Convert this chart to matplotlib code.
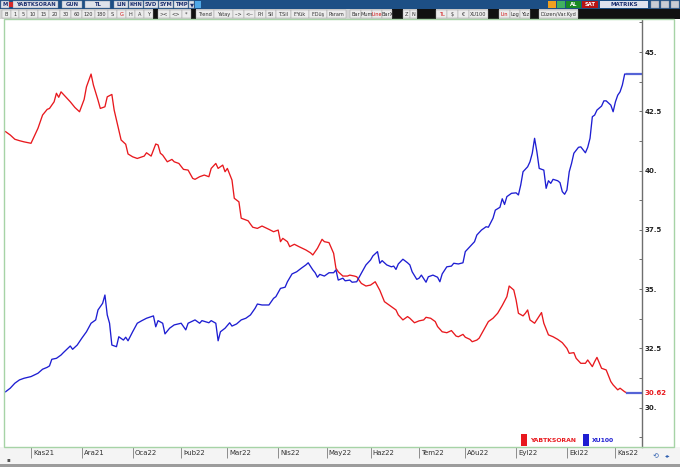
import matplotlib.pyplot as plt
import matplotlib.transforms as mtransforms
from matplotlib.patches import Rectangle

# both series share the right hand scale, x = trading session counted from the first bar
ybt_t = [0, 2, 4, 6, 8, 11, 12, 14, 16, 18, 19, 21, 22, 23, 24, 27, 28, 30, 32, 34,
         35, 37, 38, 40, 41, 43, 44, 46, 47, 48, 50, 52, 53, 55, 57, 60, 61, 63, 65, 66,
         67, 68, 70, 72, 73, 75, 77, 79, 81, 82, 84, 86, 88, 89, 91, 92, 94, 95, 96, 98,
         99, 101, 102, 105, 106, 107, 109, 111, 114, 116, 118, 119, 120, 122, 123, 125, 127, 130, 132, 133,
         135, 137, 138, 140, 142, 143, 144, 146, 148, 149, 151, 152, 154, 156, 158, 160, 162, 164, 166, 169,
         170, 172, 174, 175, 177, 179, 181, 182, 184, 186, 187, 189, 191, 193, 195, 196, 198, 199, 201, 202,
         204, 205, 207, 209, 211, 213, 215, 217, 218, 220, 221, 222, 224, 225, 226, 227, 229, 232, 233, 235,
         237, 239, 241, 243, 244, 246, 247, 249, 251, 252, 254, 255, 256, 258, 260, 262, 263, 265, 266, 268,
         269]
ybt_v = [41.64, 41.50, 41.32, 41.26, 41.21, 41.15, 41.36, 41.78, 42.34, 42.58, 42.62, 42.90, 43.26, 43.09, 43.32, 43.00, 42.90, 42.66, 42.48, 43.00,
         43.53, 44.07, 43.61, 42.97, 42.62, 42.69, 43.11, 43.21, 42.55, 42.13, 41.29, 41.11, 40.70, 40.58, 40.51, 40.61, 40.75, 40.61, 41.12, 41.08,
         40.73, 40.65, 40.37, 40.47, 40.37, 40.30, 40.05, 40.02, 39.67, 39.63, 39.74, 39.81, 39.74, 40.09, 40.30, 40.09, 40.23, 39.95, 40.09, 39.60,
         38.83, 38.68, 37.99, 37.88, 37.74, 37.61, 37.56, 37.66, 37.52, 37.42, 37.49, 37.00, 37.14, 37.00, 36.79, 36.89, 36.79, 36.65, 36.53, 36.44,
         36.72, 37.10, 37.00, 36.96, 36.51, 35.88, 35.73, 35.55, 35.55, 35.59, 35.55, 35.52, 35.24, 35.13, 35.17, 35.31, 34.95, 34.47, 34.33, 34.12,
         33.91, 33.70, 33.84, 33.77, 33.58, 33.66, 33.70, 33.81, 33.77, 33.63, 33.42, 33.20, 33.16, 33.25, 33.02, 32.99, 33.09, 32.97, 32.88, 32.78,
         32.85, 32.93, 33.28, 33.63, 33.77, 33.98, 34.31, 34.68, 35.13, 34.96, 34.54, 33.98, 33.87, 33.98, 34.12, 33.70, 33.56, 34.01, 33.56, 33.07,
         32.99, 32.88, 32.74, 32.50, 32.29, 32.32, 32.08, 31.87, 31.87, 32.01, 31.73, 31.94, 32.12, 31.66, 31.59, 31.10, 30.96, 30.75, 30.82, 30.67,
         30.62]

xu_t = [0, 2, 4, 6, 8, 11, 14, 16, 18, 19, 20, 22, 24, 25, 28, 29, 31, 33, 35, 37,
        39, 40, 42, 43, 44, 45, 46, 48, 49, 51, 52, 53, 55, 57, 59, 61, 64, 65, 66, 68,
        69, 71, 73, 76, 78, 79, 82, 84, 85, 88, 89, 91, 92, 93, 95, 97, 98, 100, 102, 104,
        106, 108, 109, 111, 114, 116, 117, 119, 121, 122, 124, 126, 128, 130, 131, 133, 134, 135, 136, 138,
        140, 142, 143, 144, 146, 147, 149, 150, 152, 154, 156, 158, 159, 161, 162, 163, 165, 167, 168, 169,
        170, 172, 174, 175, 176, 178, 179, 180, 182, 183, 185, 187, 188, 189, 191, 193, 194, 196, 198, 199,
        201, 203, 204, 206, 208, 209, 211, 212, 214, 215, 216, 217, 219, 221, 222, 223, 224, 226, 227, 228,
        229, 230, 231, 233, 234, 235, 236, 237, 239, 240, 241, 242, 243, 244, 245, 246, 248, 249, 251, 252,
        253, 254, 255, 256, 258, 259, 260, 262, 263, 264, 265, 266, 267, 268, 269]
xu_v = [30.67, 30.82, 31.03, 31.17, 31.24, 31.31, 31.45, 31.62, 31.70, 31.76, 32.04, 32.08, 32.22, 32.32, 32.60, 32.46, 32.64, 32.93, 33.20, 33.56,
        33.70, 34.12, 34.40, 34.75, 33.91, 33.56, 32.64, 32.57, 32.99, 32.85, 32.97, 32.82, 33.20, 33.56, 33.67, 33.77, 33.87, 33.41, 33.67, 33.56,
        33.11, 33.35, 33.49, 33.56, 33.28, 33.56, 33.70, 33.56, 33.67, 33.58, 33.67, 33.56, 32.82, 33.20, 33.35, 33.58, 33.44, 33.53, 33.70, 33.77,
        33.91, 34.19, 34.37, 34.33, 34.33, 34.61, 34.68, 35.03, 35.08, 35.31, 35.64, 35.73, 35.88, 36.02, 36.11, 35.81, 35.69, 35.50, 35.62, 35.55,
        35.69, 35.69, 35.81, 35.38, 35.46, 35.35, 35.38, 35.29, 35.31, 35.67, 36.02, 36.23, 36.40, 36.58, 36.09, 36.20, 36.02, 35.94, 35.97, 35.83,
        36.06, 36.26, 36.11, 36.02, 35.73, 35.41, 35.46, 35.59, 35.29, 35.52, 35.59, 35.50, 35.31, 35.64, 35.94, 35.97, 36.09, 36.06, 36.11, 36.58,
        36.79, 37.00, 37.28, 37.49, 37.63, 37.61, 37.99, 38.33, 38.45, 38.81, 38.57, 38.90, 39.04, 39.06, 38.97, 39.39, 39.95, 40.16, 40.37, 40.73,
        41.36, 40.79, 40.09, 40.02, 39.25, 39.57, 39.46, 39.63, 39.57, 39.49, 39.11, 39.00, 39.18, 39.95, 40.30, 40.73, 40.98, 41.00, 40.75, 40.98,
        41.36, 42.27, 42.34, 42.55, 42.72, 42.94, 42.94, 42.76, 42.48, 42.90, 43.18, 43.32, 43.61, 44.07, 44.07]

month_pos = [11, 33, 55, 76, 96, 118, 139, 158, 179, 199, 221, 243, 264]
month_lab = ['Kas21', 'Ara21', 'Oca22', 'Þub22', 'Mar22', 'Nis22', 'May22',
             'Haz22', 'Tem22', 'Aðu22', 'Eyl22', 'Eki22', 'Kas22']

y_major = [30, 32.5, 35, 37.5, 40, 42.5, 45]
y_major_lab = ['30.', '32.5', '35.', '37.5', '40.', '42.5', '45.']
y_minor = [28.75, 31.25, 33.75, 36.25, 38.75, 41.25, 43.75, 46.25]

RED = '#e8191e'
BLUE = '#1e1ed2'
LAST = '#5563d6'

W, H = 680, 467

fig = plt.figure(figsize=(6.8, 4.67), dpi=100)
fig.patch.set_facecolor('white')


def box(x0, x1, y0, y1, fc, ec='none', lw=0.5, z=-1):
    fig.add_artist(Rectangle((x0 / W, 1 - y1 / H), (x1 - x0) / W, (y1 - y0) / H,
                             transform=fig.transFigure, fc=fc, ec=ec, lw=lw, zorder=z))


def label(x, y, s, size=4.2, ha='center', **kw):
    fig.text(x / W, 1 - y / H, s, ha=ha, va='center', fontsize=size, **kw)


# ---- chart ----
ax = fig.add_axes([5 / W, 1 - 447 / H, 637 / W, 427 / H])
x_end = 275.5
ax.plot(ybt_t, ybt_v, color=RED, lw=0.95)
ax.plot(xu_t, xu_v, color=BLUE, lw=0.95)
ax.plot([ybt_t[-1], x_end], [ybt_v[-1], ybt_v[-1]], color=LAST, lw=1.6)
ax.plot([xu_t[-1], x_end], [xu_v[-1], xu_v[-1]], color=LAST, lw=1.6)
ax.set_xlim(-0.26, x_end)
ax.set_ylim(28.34, 46.35)

for s in ['left', 'top', 'bottom']:
    ax.spines[s].set_visible(False)
ax.spines['right'].set_color('#6e6e6e')
ax.spines['right'].set_linewidth(1.0)

ax.yaxis.tick_right()
ax.set_yticks(y_major)
ax.set_yticklabels(y_major_lab)
ax.set_yticks(y_minor, minor=True)
ax.tick_params(axis='y', which='both', direction='in', length=2.5, width=0.7,
               color='#6e6e6e', pad=2, labelsize=5, labelcolor='#222222')
for t in ax.get_yticklabels():
    t.set_fontweight('bold')

ax.set_xticks(month_pos)
ax.set_xticklabels(month_lab, ha='left')
ax.tick_params(axis='x', direction='out', length=8, width=0.7, color='#8c8c8c',
               pad=-6, labelsize=5, labelcolor='#333333')
off = mtransforms.ScaledTranslation(2 / 100, 0, fig.dpi_scale_trans)
for t in ax.get_xticklabels():
    t.set_transform(t.get_transform() + off)

# last value tag
ax.text(1.004, ybt_v[-1], '%.2f' % ybt_v[-1], transform=ax.get_yaxis_transform(),
        color=RED, fontsize=5, fontweight='bold', va='center', ha='left')

# legend at bottom right
box(521, 527, 434, 446, RED, z=3)
label(530, 440, 'YABTKSORAN', size=4.4, ha='left', color=RED, fontweight='bold')
box(583, 589, 434, 446, BLUE, z=3)
label(592, 440, 'XU100', size=4.4, ha='left', color=BLUE, fontweight='bold')

# ---- frame and bottom strip ----
box(0, 680, 447, 467, '#f4f4f4')
box(0, 680, 464, 467, '#9c9c9c')
fig.add_artist(Rectangle((4 / W, 1 - 447 / H), 670 / W, 428 / H, transform=fig.transFigure,
                         fill=False, ec='#a6d3a6', lw=1.0, zorder=2))
label(8, 460, '▪', size=4, color='#555555')
label(656, 456, '⟲', size=5, color='#3060b0')
label(668, 456, '◂▸', size=4, color='#3060b0')

# ---- toolbar row 1 ----
box(0, 680, 0, 9, '#1d4f85')
row1 = [('M', 1, 9), ('YABTKSORAN', 13, 58), ('GUN', 62, 82), ('TL', 85, 110), ('LIN', 114, 128),
        ('KHN', 129, 143), ('SVD', 144, 158), ('SYM', 159, 173), ('TMP', 174, 188), ('▼', 189, 194)]
for s, a, b in row1:
    box(a, b, 1, 8, '#dfe3ea', ec='#7d8aa0', lw=0.3, z=0)
    label((a + b) / 2, 4.6, s, size=3.8, color='#1c2f6e', fontweight='bold')
box(9, 13, 2, 7, '#d42a2a', z=0)
box(195, 201, 1, 8, '#4fa8e8', z=0)
box(548, 556, 1, 8, '#f0a020', z=0)
box(557, 565, 1, 8, '#40b060', z=0)
box(566, 581, 1, 8, '#188a22', z=0)
label(573.5, 4.6, 'AL', size=3.8, color='white', fontweight='bold')
box(582, 598, 1, 8, '#b81414', z=0)
label(590, 4.6, 'SAT', size=3.8, color='white', fontweight='bold')
box(600, 648, 1, 8, '#dfe3ee', z=0)
label(624, 4.6, 'MATRIKS', size=4, color='#1c2f6e', fontweight='bold')
for a in [651, 661, 671]:
    box(a, a + 8, 1, 8, '#c8ccd4', ec='#8890a0', lw=0.3, z=0)

# ---- toolbar row 2 ----
box(0, 680, 9, 19, '#d4d4d4')
row2 = [('B', 2, 11), ('1', 11, 19), ('5', 19, 27), ('10', 27, 38), ('15', 38, 49), ('20', 49, 60),
        ('30', 60, 71), ('60', 71, 82), ('120', 82, 95), ('180', 95, 108), ('S', 108, 117),
        ('G', 117, 126), ('H', 126, 135), ('A', 135, 144), ('Y', 144, 153), ('><', 158, 170),
        ('<>', 170, 182), ('*', 182, 191), ('Trend', 196, 214), ('Yatay', 214, 233), ('-->', 233, 244),
        ('<--', 244, 255), ('Prl', 255, 266), ('Sil', 266, 276), ('T.Sil', 276, 291), ('F.Yük', 291, 309),
        ('F.Düş', 309, 327), ('Param', 327, 346), ('Bar', 350, 361), ('Mum', 361, 372), ('Line', 372, 382),
        ('BarX', 382, 392), ('Z', 403, 410), ('N', 410, 417), ('TL', 436, 447), ('$', 447, 458),
        ('€', 458, 469), ('XU100', 469, 488), ('Lin', 499, 510), ('Log', 510, 520), ('Yüz', 520, 530),
        ('Düzen/Var.Kyd', 539, 578)]
red_btn = ['G', 'Line', 'TL', 'Lin']
for a, b in [(153, 158), (191, 196), (392, 403), (417, 436), (488, 499), (530, 539), (578, 680)]:
    box(a, b, 9, 19, '#111111', z=0)
for s, a, b in row2:
    box(a, b, 10, 18, '#ececec', ec='#9a9a9a', lw=0.3, z=0)
    label((a + b) / 2, 14.2, s, size=3.6, color='#d01010' if s in red_btn else '#333333')

fig.savefig('out.png', dpi=100)
